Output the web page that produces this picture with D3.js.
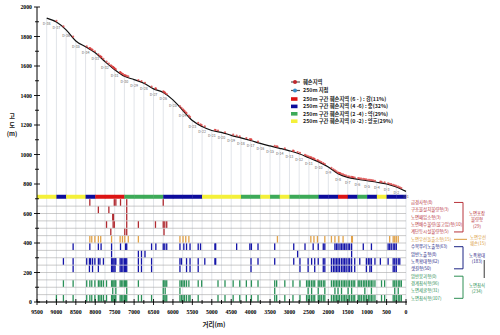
<!DOCTYPE html>
<html>
<head>
<meta charset="utf-8">
<script src="https://cdn.jsdelivr.net/npm/d3@7"></script>
<style>
body { margin: 0; background: #fff; }
svg { display: block; font-family: "Noto Sans CJK KR", "Noto Sans", sans-serif; }
</style>
</head>
<body>
<div id="chart"></div>
<script>
// elevation profile at every 250m point (distance m, elevation m)
var profileDist = [9250, 9000, 8750, 8500, 8250, 8000, 7750, 7500, 7250, 7000, 6750, 6500, 6250,
    6000, 5750, 5500, 5250, 5000, 4750, 4500, 4250, 4000, 3750, 3500, 3250, 3000, 2750, 2500,
    2250, 2000, 1750, 1500, 1250, 1000, 750, 500, 250, 0];
var profileElev = [1925, 1898, 1845, 1770, 1730, 1690, 1630, 1575, 1530, 1508, 1483, 1445, 1420,
    1370, 1300, 1230, 1190, 1163, 1150, 1130, 1113, 1095, 1075, 1058, 1042, 1025, 1005, 978,
    950, 915, 870, 845, 832, 822, 812, 800, 780, 750];

// 250m section grade, from 9500 toward 0
var sectionGrades = ["양호", "양호", "중", "양호", "양호", "중", "강", "강", "강", "약", "약", "약", "약",
    "중", "중", "중", "중", "양호", "양호", "양호", "양호", "약", "약", "양호", "약", "양호", "약", "약",
    "약", "중", "중", "강", "중", "약", "중", "양호", "중", "중"];

var gradeNames = ["강", "중", "약", "양호"];
var gradeColors = ["#dc1414", "#0c0c9c", "#3daa58", "#f4f03a"];
var gradeLegend = ["250m 구간 훼손지역 (6 - ) : 강(11%)", "250m 구간 훼손지역 (4 -6) : 중(32%)",
    "250m 구간 훼손지역 (2 -4) : 약(29%)", "250m 구간 훼손지역 (0 -2) : 양호(29%)"];

// damage types (rows, top to bottom)
var damageTypes = ["급경사형(8)", "구조물설치불량형(3)", "노면패임소형(3)", "노면배수불량(물고임)형(10)",
    "계단등시설불량형(5)", "노면우선돌출소형(15)", "수목뿌리노출형(63)", "암반노출형(8)", "노폭확대형(62)",
    "샛길형(50)", "암반붕괴형(0)", "경계침식형(96)", "노면세굴형(31)", "노면침식형(107)"];
var damageGroup = ["r", "r", "r", "r", "r", "o", "b", "b", "b", "b", "g", "g", "g", "g"];

// damage locations (distance m) per row
var damageMarks = [
    [8140, 7510, 7470, 7350, 7190, 6250],
    [7920, 7650, 7190],
    [7550, 7530, 7190],
    [7710, 7540, 7510, 7190, 6890, 6450, 6250, 6210, 6160],
    [7600, 7240, 7190, 6230],
    [8140, 8090, 8010, 7920, 7860, 7580, 7360, 7300, 7240, 7150, 6890, 5820, 5740, 5670, 5590,
        3310, 2450, 2370, 2280, 2090, 1920, 1830, 1730, 1620, 1400, 1380, 420, 330, 290, 250, 200],
    [8570, 8140, 7920, 7850, 7580, 7350, 7220, 7190, 6550, 6440, 6250, 6210, 6160, 5820, 5720,
        5650, 5560, 5350, 5290, 4920, 4900, 4360, 4020, 3980, 3810, 3380, 2890, 2600, 2390, 2260,
        2130, 2090, 1830, 1790, 1750, 1700, 1660, 1620, 1580, 1540, 1490, 1450, 1400, 1100, 890,
        460, 420, 380, 330, 290, 250],
    [7580, 6890, 6810, 6720, 2790, 1400],
    [8820, 8570, 8220, 8150, 8120, 8070, 8010, 7920, 7880, 7790, 7580, 7550, 7520, 7490, 7470,
        7360, 7330, 7290, 7250, 7220, 7190, 6890, 6810, 6550, 5820, 5780, 5650, 5560, 5350, 5180,
        4920, 4900, 3990, 3810, 3380, 2890, 2730, 2520, 2430, 2350, 2260, 2130, 2090, 1920, 1870,
        1830, 1790, 1750, 1710, 1660, 1620, 1580, 1540, 1490, 1450, 1400, 1320, 1190, 1020, 970,
        930, 890, 800, 660, 460, 330, 290, 250, 200, 160],
    [8570, 8150, 8070, 7920, 7580, 7550, 7520, 7490, 7360, 7330, 7290, 7250, 7220, 7190, 6890,
        6810, 6550, 5820, 5650, 5560, 5350, 3990, 2730, 2520, 2350, 2130, 2090, 1920, 1870, 1830,
        1790, 1750, 1710, 1660, 1620, 1580, 1540, 1490, 1450, 1400, 1320, 1020, 930, 890, 330,
        290, 250],
    [],
    [8820, 8570, 8220, 8140, 8090, 8010, 7920, 7880, 7840, 7790, 7710, 7580, 7550, 7520, 7490,
        7470, 7360, 7330, 7290, 7250, 7220, 7190, 6890, 6250, 6230, 6200, 6160, 5820, 5780, 5740,
        5700, 5650, 5590, 5350, 5260, 4840, 4660, 4450, 4280, 4110, 3980, 3810, 3380, 3330, 3120,
        2910, 2730, 2560, 2520, 2480, 2430, 2390, 2350, 2260, 2220, 2180, 2130, 2090, 1920, 1870,
        1830, 1790, 1750, 1710, 1660, 1620, 1580, 1540, 1490, 1450, 1400, 1360, 1320, 1230, 1190,
        1150, 1100, 1060, 1020, 970, 930, 890, 850, 800, 630, 550, 330, 290, 250, 200, 160, 120],
    [7550, 7470, 7190, 6250, 6200, 5820, 3380, 2520, 2430, 2260, 2090, 1830, 1750, 1660, 1490,
        1400, 1060, 890, 290, 200],
    [9000, 8820, 8570, 8220, 8140, 8090, 8010, 7920, 7880, 7840, 7790, 7710, 7580, 7550, 7520,
        7490, 7470, 7360, 7330, 7290, 7250, 7220, 7190, 6890, 6810, 6550, 6250, 6230, 6200, 6160,
        5820, 5780, 5740, 5700, 5650, 5590, 5560, 5350, 4840, 4660, 4450, 4280, 4110, 3980, 3810,
        3380, 3330, 3120, 2910, 2730, 2560, 2520, 2480, 2430, 2390, 2350, 2260, 2220, 2180, 2130,
        2090, 1920, 1870, 1830, 1790, 1750, 1710, 1660, 1620, 1580, 1540, 1490, 1450, 1400, 1360,
        1320, 1230, 1190, 1150, 1100, 1060, 1020, 970, 930, 890, 850, 800, 630, 550, 330, 290,
        250, 200, 160, 120]
];

var groupColor = { r: "#b8343c", o: "#d99a3c", b: "#1c2484", g: "#2e8f55" };
var markColor = { r: "#b02a30", o: "#e0a24a", b: "#1414a8", g: "#2a9058" };

var width = 500, height = 335;

var svg = d3.select("#chart").append("svg")
    .attr("width", width)
    .attr("height", height);

var x = d3.scaleLinear().domain([9500, 0]).range([37, 406]);
var y = d3.scaleLinear().domain([0, 2000]).range([302, 7]);
var elevAt = d3.scaleLinear().domain(profileDist).range(profileElev);
var band = d3.scaleBand().domain(d3.range(sectionGrades.length)).range([x(9500), x(0)]);
var gradeColor = d3.scaleOrdinal().domain(gradeNames).range(gradeColors);

// drop lines at every 250m point
svg.append("g").selectAll("line")
    .data(profileDist)
    .enter().append("line")
    .attr("x1", d => x(d)).attr("x2", d => x(d))
    .attr("y1", (d, i) => y(profileElev[i])).attr("y2", y(0))
    .attr("stroke", "#d4d8e0").attr("stroke-width", 0.7);

// row lines
svg.append("g").selectAll("line")
    .data(damageTypes)
    .enter().append("line")
    .attr("x1", x(9500)).attr("x2", x(0))
    .attr("y1", (d, i) => y(650 - 50 * i)).attr("y2", (d, i) => y(650 - 50 * i))
    .attr("stroke", "#a8a8a8").attr("stroke-width", 0.6);

// grade bar
svg.append("g").selectAll("rect")
    .data(sectionGrades)
    .enter().append("rect")
    .attr("x", (d, i) => band(i))
    .attr("width", band.bandwidth() + 0.3)
    .attr("y", y(727)).attr("height", y(700) - y(727))
    .attr("fill", d => gradeColor(d));

// damage marks
damageMarks.forEach(function(row, i) {
    svg.append("g").selectAll("rect")
        .data(row)
        .enter().append("rect")
        .attr("x", d => x(d) - 0.65)
        .attr("width", 1.3)
        .attr("y", y(700 - 50 * i) + 0.4)
        .attr("height", y(650) - y(700) - 0.8)
        .attr("fill", markColor[damageGroup[i]]);
});

// profile
var line = d3.line()
    .x((d, i) => x(d))
    .y((d, i) => y(profileElev[i]))
    .curve(d3.curveMonotoneX);

svg.append("path")
    .datum(profileDist)
    .attr("d", line)
    .attr("fill", "none")
    .attr("stroke", "#111")
    .attr("stroke-width", 1.2);

var damagePoints = Array.from(new Set(d3.merge(damageMarks))).sort(d3.descending);
svg.append("g").selectAll("circle")
    .data(damagePoints)
    .enter().append("circle")
    .attr("cx", d => x(d))
    .attr("cy", d => y(elevAt(d)) - 1.2)
    .attr("r", 1.1)
    .attr("fill", "#d83a3a")
    .attr("fill-opacity", 0.75);

svg.append("g").selectAll("text")
    .data(profileDist)
    .enter().append("text")
    .attr("x", d => x(d))
    .attr("y", (d, i) => y(profileElev[i]) + 7)
    .attr("text-anchor", "middle")
    .attr("font-size", 3.6)
    .attr("fill", "#666")
    .text(d => "D-" + (d / 250 + 1));

// axes
var serif = '"Liberation Serif", "DejaVu Serif", serif';

svg.append("line").attr("x1", x(9500)).attr("x2", x(9500)).attr("y1", y(0)).attr("y2", y(2000))
    .attr("stroke", "#000").attr("stroke-width", 1);
svg.append("line").attr("x1", x(9500)).attr("x2", x(0) + 1).attr("y1", y(0)).attr("y2", y(0))
    .attr("stroke", "#000").attr("stroke-width", 1);

var yTicks = d3.range(0, 2001, 100);
svg.append("g").selectAll("line")
    .data(yTicks)
    .enter().append("line")
    .attr("x1", d => x(9500) - (d % 200 ? 2 : 3))
    .attr("x2", d => x(9500) + (d % 200 ? 2 : 3))
    .attr("y1", d => y(d)).attr("y2", d => y(d))
    .attr("stroke", "#000").attr("stroke-width", 0.9);

svg.append("g").selectAll("text")
    .data(yTicks.filter(d => d % 200 === 0))
    .enter().append("text")
    .attr("x", 32)
    .attr("y", d => y(d))
    .attr("dy", "0.35em")
    .attr("text-anchor", "end")
    .attr("font-family", serif)
    .attr("font-weight", "bold")
    .attr("font-size", 5.8)
    .text(d => d);

var xTicks = d3.range(0, 9501, 250);
svg.append("g").selectAll("line")
    .data(xTicks)
    .enter().append("line")
    .attr("x1", d => x(d)).attr("x2", d => x(d))
    .attr("y1", d => y(0) - (d % 500 ? 2 : 3))
    .attr("y2", d => y(0) + (d % 500 ? 2 : 3))
    .attr("stroke", "#000").attr("stroke-width", 0.9);

svg.append("g").selectAll("text")
    .data(xTicks.filter(d => d % 500 === 0))
    .enter().append("text")
    .attr("x", d => x(d))
    .attr("y", 314)
    .attr("text-anchor", "middle")
    .attr("font-family", serif)
    .attr("font-weight", "bold")
    .attr("font-size", 5.8)
    .text(d => d);

svg.append("text")
    .attr("x", 214).attr("y", 327)
    .attr("text-anchor", "middle")
    .attr("font-size", 6.5)
    .attr("font-weight", "bold")
    .attr("fill", "#222")
    .text("거리(m)");

svg.append("g").selectAll("text")
    .data(["고", "도", "(m)"])
    .enter().append("text")
    .attr("x", 12)
    .attr("y", (d, i) => 118 + i * 9)
    .attr("text-anchor", "middle")
    .attr("font-size", 6.2)
    .attr("font-weight", "bold")
    .attr("fill", "#222")
    .text(d => d);

// legend
var lg = svg.append("g").attr("font-size", 5.3).attr("font-weight", "bold").attr("fill", "#222");
[["#c0282e", "훼손지역"], ["#3a8cc8", "250m 지점"]].forEach(function(d, i) {
    var yy = 82 + i * 8.5;
    lg.append("line").attr("x1", 291).attr("x2", 300).attr("y1", yy).attr("y2", yy)
        .attr("stroke", "#555").attr("stroke-width", 1.2);
    lg.append("circle").attr("cx", 295).attr("cy", yy).attr("r", 2).attr("fill", d[0]);
    lg.append("text").attr("x", 303).attr("y", yy).attr("dy", "0.35em").text(d[1]);
});
gradeLegend.forEach(function(t, i) {
    var yy = 99 + i * 7.4;
    lg.append("rect").attr("x", 291).attr("y", yy - 1.8).attr("width", 6.5).attr("height", 3.6)
        .attr("fill", gradeColors[i]);
    lg.append("text").attr("x", 303).attr("y", yy).attr("dy", "0.35em").text(t);
});

// row labels and group brackets
svg.append("g").selectAll("text")
    .data(damageTypes)
    .enter().append("text")
    .attr("x", 411)
    .attr("y", (d, i) => y(675 - 50 * i))
    .attr("dy", "0.35em")
    .attr("font-size", 4.4)
    .attr("fill", (d, i) => groupColor[damageGroup[i]])
    .text(d => d);

var groups = [
    { c: "r", from: 0, to: 4, text: ["노면포장", "불량형", "(29)"], ty: 213 },
    { c: "b", from: 6, to: 9, text: ["노폭확대", "(183)"], ty: 255 },
    { c: "g", from: 10, to: 13, text: ["노면침식", "(234)"], ty: 285 }
];
groups.forEach(function(g) {
    var y0 = y(675 - 50 * g.from), y1 = y(675 - 50 * g.to);
    svg.append("path")
        .attr("d", "M454," + y0 + "H463V" + y1 + "H454")
        .attr("fill", "none").attr("stroke", groupColor[g.c]).attr("stroke-width", 1);
    g.text.forEach(function(t, j) {
        svg.append("text").attr("x", 477).attr("y", g.ty + j * 6.5).attr("dy", "0.35em")
            .attr("text-anchor", "middle").attr("font-size", 4.4)
            .attr("fill", groupColor[g.c]).text(t);
    });
});
svg.append("line").attr("x1", 454).attr("x2", 467).attr("y1", y(425)).attr("y2", y(425))
    .attr("stroke", groupColor.o).attr("stroke-width", 1);
["노면우선", "훼손(15)"].forEach(function(t, j) {
    svg.append("text").attr("x", 478).attr("y", 237 + j * 6.5).attr("dy", "0.35em")
        .attr("text-anchor", "middle").attr("font-size", 4.4)
        .attr("fill", groupColor.o).text(t);
});
svg.append("rect").attr("x", 483.6).attr("y", 260).attr("width", 1.4).attr("height", 18)
    .attr("fill", "#707070");
</script>
</body>
</html>
